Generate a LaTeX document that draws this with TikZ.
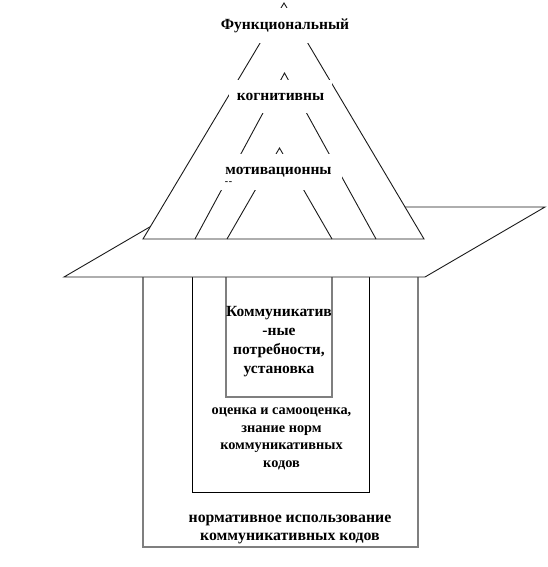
\documentclass[tikz,border=0pt]{standalone}
\usepackage{fontspec}
\setmainfont{Liberation Serif}
\usepackage{xcolor}
\usepackage{tikz}
\definecolor{linegray}{HTML}{7F7F7F}
\definecolor{linedark}{HTML}{1A1A1A}
\tikzset{
    tierline/.style={draw=linedark, line width=0.9pt, line join=miter},
    platform/.style={draw=linedark, fill=white, line width=0.9pt},
    graybox/.style={draw=linegray, fill=white, line width=1.1pt},
    blackbox/.style={draw=black, fill=white, line width=0.9pt}
}

\begin{document}
\begin{tikzpicture}[x=1pt, y=-1pt,
    every node/.style={align=center, font=\fontsize{15.5}{18}\selectfont\bfseries},
    tierlabel/.style={rectangle, fill=white, inner sep=0pt}
]
    \useasboundingbox (0,0) rectangle (547,567);

    % nested boxes under the platform
    \draw[graybox] (143,262) rectangle (418,547);
    \draw[blackbox] (192,262) rectangle (369,492);
    \draw[graybox] (226,262) rectangle (332,397);

    \draw[platform] (64,277) -- (425,277) -- (545,207) -- (184,207) -- cycle;

    % pyramid
    \draw[tierline, fill=white] (143,239) -- (284,3) -- (424,239) -- cycle;
    \draw[tierline] (195,239) -- (284.5,73) -- (376,239);
    \draw[tierline] (227,239) -- (279.5,148) -- (332,239);

    \node[tierlabel, minimum width=140, minimum height=35] (func) at (285,25.5) {Функциональный};
    \node[tierlabel, minimum width=103, minimum height=33] (cogn) at (280.5,96.5) {когнитивны};
    \node[tierlabel, minimum width=127, minimum height=36] (motiv) at (278.5,172) {мотивационны};
    \node[font=\fontsize{10}{10}\selectfont\bfseries, inner sep=0pt] (motivdash) at (228.5,183) {-\kern0.5pt-};

    \node[font=\fontsize{15.5}{19}\selectfont\bfseries] (needs) at (279,342) {Коммуникатив\\-ные\\потребности,\\установка};
    \node[font=\fontsize{14.3}{17.7}\selectfont\bfseries] (norms) at (281.5,439) {оценка и самооценка,\\знание норм\\коммуникативных\\кодов};
    \node[font=\fontsize{15.8}{17.4}\selectfont\bfseries] (usage) at (290,529.5) {нормативное использование\\коммуникативных кодов};
\end{tikzpicture}
\end{document}
